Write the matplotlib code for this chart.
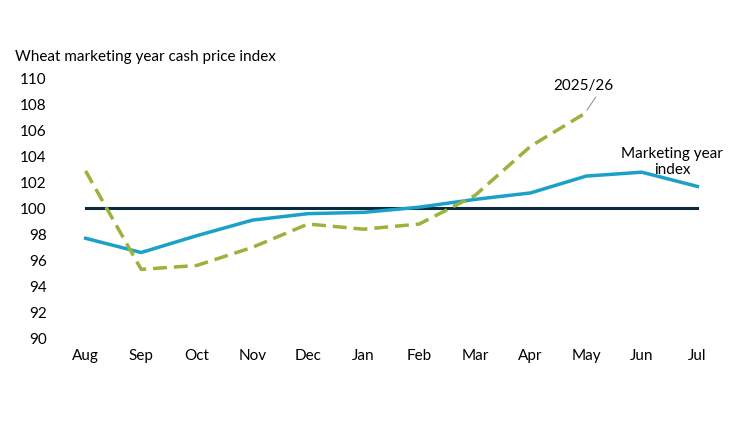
import matplotlib
matplotlib.use("Agg")
from matplotlib import pyplot as plt

months = ["Aug", "Sep", "Oct", "Nov", "Dec", "Jan", "Feb", "Mar", "Apr", "May", "Jun", "Jul"]
my_index = [97.7, 96.6, 97.9, 99.1, 99.6, 99.7, 100.1, 100.7, 101.2, 102.5, 102.8, 101.7]
current = [102.9, 95.3, 95.6, 97.0, 98.8, 98.4, 98.8, 101.0, 104.8, 107.4]
baseline = [100] * len(months)

plt.rcParams['font.family'] = ['Lato', 'DejaVu Sans']

fig = plt.figure(figsize=[7.5, 4.22], dpi=100)
ax = fig.add_axes([0.077, 0.199, 0.89, 0.614])

x = list(range(len(months)))
ax.plot(x, baseline, color="#0b2a3c", linewidth=2.2)
ax.plot(x, my_index, color="#1ba1c8", linewidth=2.5)
ax.plot(x[:len(current)], current, color="#9bb33b", linewidth=2.5, linestyle=(0, (4, 2)))

ax.set_xlim(-0.5, 11.5)
ax.set_ylim(90, 110)
ax.set_yticks(range(90, 111, 2))
ax.set_xticks(x)
ax.set_xticklabels(months)
ax.tick_params(length=0, labelsize=11, pad=8)
for s in ax.spines.values():
    s.set_visible(False)

ax.annotate("2025/26", xy=(9.0, 107.5), xytext=(8.95, 108.9), fontsize=11,
            ha="center", va="bottom",
            arrowprops=dict(arrowstyle="-", color="#999999", lw=0.8,
                            shrinkA=1, shrinkB=1, relpos=(0.75, 0)))
ax.text(10.55, 103.6, "Marketing year\nindex", fontsize=11, ha="center", va="center", linespacing=1.15)

fig.text(0.02, 0.865, "Wheat marketing year cash price index", fontsize=11, va="center")

fig.savefig("out.png", dpi=100)
